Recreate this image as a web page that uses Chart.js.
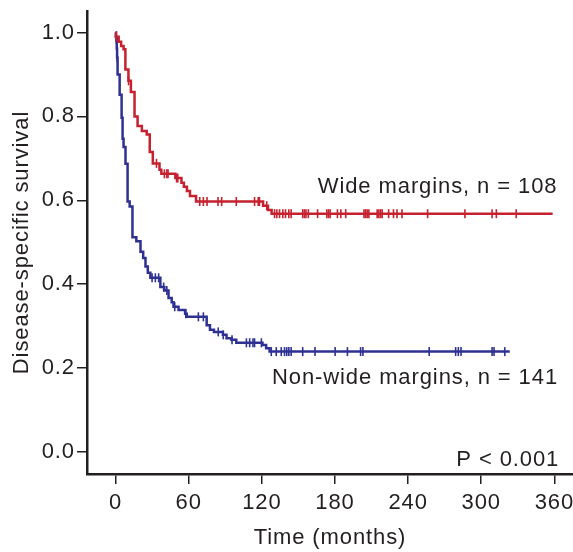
<!DOCTYPE html>
<html>
<head>
<meta charset="utf-8">
<script src="https://cdn.jsdelivr.net/npm/chart.js@4/dist/chart.umd.min.js"></script>
<style>
  html, body { margin: 0; padding: 0; background: #fff; }
  #wrap { position: relative; width: 573px; height: 552px; }
</style>
</head>
<body>
<div id="wrap"><canvas id="km"></canvas></div>
<script>
// Kaplan-Meier curves, disease-specific survival by margin status.

const X_TICKS = [0, 60, 120, 180, 240, 300, 360];
const Y_TICKS = [0.0, 0.2, 0.4, 0.6, 0.8, 1.0];

// Wide margins (n = 108): event times (months) and survival after each step
const wideTimes = [0, 0.3, 2.5, 4.5, 6.5, 8, 10.5, 12.5, 15.5, 18, 21.5, 25.5, 28, 30.5, 36, 37.5,
    49, 54, 56, 58.5, 61, 66, 121, 125, 128, 358.6];
const wideSurv = [1.0, 0.99, 0.978, 0.968, 0.96, 0.912, 0.885, 0.858, 0.80, 0.777, 0.765, 0.757,
    0.715, 0.688, 0.673, 0.663, 0.653, 0.642, 0.632, 0.622, 0.61, 0.597, 0.587, 0.577, 0.568, 0.568];
const wideCensored = [0.5, 10.6, 33.5, 40, 42, 43, 50, 51, 69, 72, 75, 84, 87, 99, 114, 117, 118,
    124, 130.4, 132.3, 134.5, 137.2, 139.4, 142.1, 144, 153.5, 154.9, 156.2, 158.1, 165.7, 173.3,
    174.7, 176, 182, 184.8, 188.8, 203.8, 205.1, 206.4, 207.8, 214.6, 216, 217.4, 218.7, 224, 228,
    230.9, 235, 256, 286.6, 308.9, 312.4, 328.7];

// Non-wide margins (n = 141)
const nonWideTimes = [0, 0.2, 0.5, 0.9, 1.2, 1.6, 3.3, 4.9, 5.7, 6.5, 8.1, 9.8, 11.5, 13.8, 17,
    20.4, 22.6, 24.5, 26.4, 28.5, 36.7, 40, 43.4, 46, 47.5, 51.6, 57, 58.4, 74.7, 77.4, 80.7, 88,
    91, 95, 99, 120.5, 123.5, 126.3, 323.4];
const nonWideSurv = [1.0, 0.99, 0.985, 0.962, 0.94, 0.90, 0.852, 0.797, 0.747, 0.727, 0.687, 0.597,
    0.585, 0.512, 0.502, 0.477, 0.462, 0.442, 0.427, 0.415, 0.393, 0.385, 0.367, 0.357, 0.346,
    0.338, 0.329, 0.322, 0.302, 0.291, 0.286, 0.279, 0.271, 0.267, 0.26, 0.255, 0.247, 0.239, 0.239];
const nonWideCensored = [0.25, 0.55, 0.95, 1.25, 29.9, 32.6, 35.3, 39.4, 42, 48.5, 57.6, 67.9, 72,
    84.2, 88.3, 95.5, 107.3, 110, 112.7, 114, 119.6, 127.7, 131.8, 135.9, 138.6, 140.4, 142.1, 144,
    153.5, 163.6, 180.1, 190.2, 201, 202.9, 257.3, 279, 281.2, 283.4, 308.9, 310.5, 319.3];

const RED = "#c5212e";
const BLUE = "#2e3192";
const INK = "#231f20";
const FONT = "'Liberation Sans', Arial, Helvetica, sans-serif";
const SPACING = "0.9px"; // the source lettering runs a little wide

// value of the step curve at time t (for placing censor ticks on the line)
function survivalAt(times, surv, t) {
    let s = surv[0];
    for (let i = 0; i < times.length; i++) {
        if (times[i] <= t) s = surv[i];
    }
    return s;
}

function curve(times, surv) {
    return times.map((t, i) => ({ x: t, y: surv[i] }));
}

function censorMarks(times, surv, cens) {
    return cens.map(t => ({ x: t, y: survivalAt(times, surv, t) }));
}

const labelsPlugin = {
    id: "kmLabels",
    beforeDraw(chart) {
        // canvas resize wipes context state, so set it right before drawing
        chart.ctx.letterSpacing = SPACING;
    },
    afterDraw(chart) {
        const { ctx, scales: { x, y } } = chart;
        ctx.save();
        ctx.letterSpacing = SPACING;
        ctx.fillStyle = INK;
        ctx.font = "22px " + FONT;
        ctx.textAlign = "right";
        ctx.textBaseline = "alphabetic";
        ctx.fillText("Wide margins, n = 108", x.getPixelForValue(362.5), y.getPixelForValue(0.6175));
        ctx.fillText("Non-wide margins, n = 141", x.getPixelForValue(363), y.getPixelForValue(0.161));
        ctx.fillText("P < 0.001", x.getPixelForValue(364), y.getPixelForValue(-0.034));
        ctx.restore();
    }
};

const lineSet = (data, color) => ({
    data, borderColor: color, borderWidth: 2.5, stepped: true,
    pointRadius: 0, fill: false, clip: false,
});
const censorSet = (data, color) => ({
    data, showLine: false, pointStyle: "line", rotation: 90, pointRadius: 4.5,
    borderColor: color, backgroundColor: color, pointBorderWidth: 1.6, clip: false,
});

new Chart(document.getElementById("km").getContext("2d"), {
    type: "line",
    data: {
        datasets: [
            lineSet(curve(wideTimes, wideSurv), RED),
            censorSet(censorMarks(wideTimes, wideSurv, wideCensored), RED),
            lineSet(curve(nonWideTimes, nonWideSurv), BLUE),
            censorSet(censorMarks(nonWideTimes, nonWideSurv, nonWideCensored), BLUE),
        ],
    },
    options: {
        responsive: true,
        maintainAspectRatio: false,
        devicePixelRatio: 1,
        animation: false,
        layout: { autoPadding: false, padding: { left: 0, right: 0, top: 11, bottom: 0 } },
        plugins: { legend: { display: false }, tooltip: { enabled: false } },
        scales: {
            x: {
                type: "linear",
                min: -23.5, max: 375.3,
                afterBuildTicks: s => { s.ticks = X_TICKS.map(v => ({ value: v })); },
                afterFit: s => { s.height = 78; s.paddingLeft = 0; s.paddingRight = 0; },
                ticks: { color: INK, font: { family: FONT, size: 22 }, padding: 6, maxRotation: 0 },
                grid: { drawOnChartArea: false, drawTicks: true, tickLength: 10, color: INK, lineWidth: 1.5 },
                border: { display: true, color: INK, width: 2.5 },
                title: { display: true, text: "Time (months)", color: INK,
                         font: { family: FONT, size: 22 }, padding: { top: 0, bottom: 1 } },
            },
            y: {
                min: -0.053, max: 1.0515,
                afterBuildTicks: s => { s.ticks = Y_TICKS.map(v => ({ value: v })); },
                afterFit: s => { s.width = 87; s.paddingTop = 0; s.paddingBottom = 0; },
                ticks: { color: INK, font: { family: FONT, size: 22 }, padding: 2,
                         callback: v => v.toFixed(1) },
                grid: { drawOnChartArea: false, drawTicks: true, tickLength: 10, color: INK, lineWidth: 1.5 },
                border: { display: true, color: INK, width: 2.5 },
                title: { display: true, text: "Disease-specific survival", color: INK,
                         font: { family: FONT, size: 22 }, padding: { top: 9, bottom: 0 } },
            },
        },
    },
    plugins: [labelsPlugin],
});
</script>
</body>
</html>
